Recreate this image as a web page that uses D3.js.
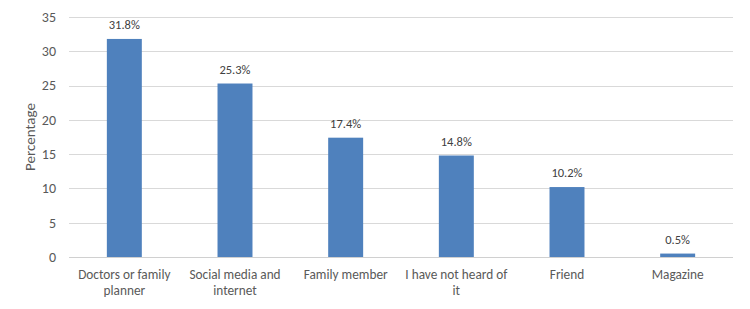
<!DOCTYPE html>
<html>
<head>
<meta charset="UTF-8">
<title>Bar chart</title>
<script src="https://cdn.jsdelivr.net/npm/d3@7"></script>
<style>
  body { margin: 0; background: #fff; }
  text { font-family: Calibri, Carlito, "Liberation Sans", sans-serif; fill: #404040; }
</style>
</head>
<body>
<div id="app"></div>
<script>
    var categories = ["Doctors or family planner", "Social media and internet", "Family member", "I have not heard of it", "Friend", "Magazine"];
    var values = [31.8, 25.3, 17.4, 14.8, 10.2, 0.5];
    var yTicks = [0, 5, 10, 15, 20, 25, 30, 35];

    var width = 750, height = 309;
    var margin = {top: 17, right: 17, bottom: 52, left: 69};

    var svg = d3.select('#app').append('svg')
        .attr('width', width)
        .attr('height', height);

    var x = d3.scaleBand()
        .domain(categories)
        .range([margin.left, width - margin.right])
        .paddingInner(0.684)
        .paddingOuter(0.342);

    var y = d3.scaleLinear()
        .domain([0, 35])
        .range([height - margin.bottom, margin.top]);

    // gridlines
    svg.append('g')
        .selectAll('line')
        .data(yTicks)
        .enter()
        .append('line')
        .attr('x1', margin.left)
        .attr('x2', width - margin.right)
        .attr('y1', function(d){ return Math.round(y(d)) + 0.5; })
        .attr('y2', function(d){ return Math.round(y(d)) + 0.5; })
        .attr('stroke', function(d){ return d === 0 ? '#d0d0d0' : '#d9d9d9'; })
        .attr('stroke-width', 1);

    // y tick labels
    svg.append('g')
        .selectAll('text')
        .data(yTicks)
        .enter()
        .append('text')
        .attr('x', 56)
        .attr('y', function(d){ return y(d); })
        .attr('dy', '0.35em')
        .attr('text-anchor', 'end')
        .style('font-size', '14px')
        .style('fill', '#595959')
        .text(function(d){ return d; });

    // y axis title
    svg.append('text')
        .attr('transform', 'translate(35,' + ((margin.top + height - margin.bottom) / 2) + ') rotate(-90)')
        .attr('text-anchor', 'middle')
        .style('font-size', '15px')
        .style('fill', '#595959')
        .text('Percentage');

    // bars
    svg.append('g')
        .selectAll('rect')
        .data(values)
        .enter()
        .append('rect')
        .attr('x', function(d, i){ return x(categories[i]); })
        .attr('y', function(d){ return y(d); })
        .attr('width', x.bandwidth())
        .attr('height', function(d){ return y(0) - y(d); })
        .attr('fill', '#4f81bd');

    // value labels
    svg.append('g')
        .selectAll('text')
        .data(values)
        .enter()
        .append('text')
        .attr('x', function(d, i){ return x(categories[i]) + x.bandwidth() / 2; })
        .attr('y', function(d){ return y(d) - 10; })
        .attr('text-anchor', 'middle')
        .style('font-size', '12.5px')
        .text(function(d){ return d.toFixed(1) + '%'; });

    // category labels, wrapped
    var step = x.step();
    svg.append('g')
        .selectAll('text')
        .data(categories)
        .enter()
        .append('text')
        .attr('text-anchor', 'middle')
        .style('font-size', '13.3px')
        .style('fill', '#595959')
        .each(function(d){
            var el = d3.select(this);
            var cx = x(d) + x.bandwidth() / 2;
            var words = d.split(' ');
            var lines = [], line = [];
            var probe = el.append('tspan');
            words.forEach(function(w){
                line.push(w);
                probe.text(line.join(' '));
                if (probe.node().getComputedTextLength() > step - 6 && line.length > 1) {
                    line.pop();
                    lines.push(line.join(' '));
                    line = [w];
                }
            });
            lines.push(line.join(' '));
            probe.remove();
            lines.forEach(function(t, k){
                el.append('tspan')
                    .attr('x', cx)
                    .attr('y', y(0) + 22 + k * 16)
                    .text(t);
            });
        });
</script>
</body>
</html>
